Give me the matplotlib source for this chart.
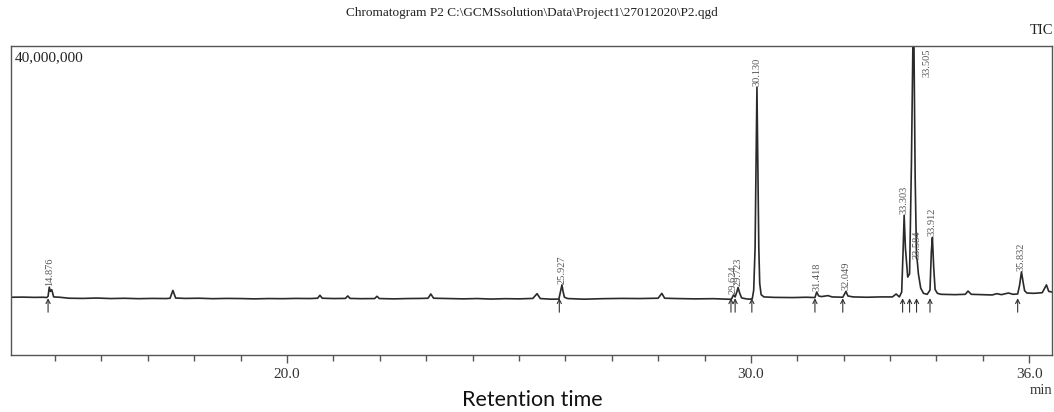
import matplotlib.pyplot as plt
from matplotlib.ticker import MultipleLocator, FixedLocator

# Трасса хроматограммы (время удерживания, мин; интенсивность, млн)
trace_rt = [14.05, 14.30, 14.55, 14.75, 14.82, 14.85, 14.876, 14.90, 14.93, 14.97,
            15.10, 15.30, 15.60, 15.90, 16.20, 16.50, 16.80, 17.10, 17.40, 17.48,
            17.54, 17.60, 17.80, 18.10, 18.40, 18.70, 19.00, 19.30, 19.60, 19.90,
            20.20, 20.50, 20.66, 20.71, 20.76, 21.00, 21.26, 21.31, 21.36, 21.60,
            21.89, 21.94, 21.99, 22.30, 22.60, 22.90, 23.04, 23.10, 23.16, 23.50,
            23.80, 24.10, 24.40, 24.70, 25.00, 25.30, 25.39, 25.46, 25.70, 25.86,
            25.90, 25.927, 25.95, 25.98, 26.05, 26.40, 26.80, 27.20, 27.60, 28.00,
            28.08, 28.14, 28.40, 28.80, 29.20, 29.50, 29.58, 29.624, 29.66, 29.70,
            29.723, 29.76, 29.80, 29.90, 29.98, 30.03, 30.06, 30.09, 30.11, 30.13,
            30.15, 30.17, 30.19, 30.22, 30.28, 30.50, 30.90, 31.20, 31.38, 31.418,
            31.46, 31.52, 31.66, 31.75, 31.98, 32.049, 32.09, 32.20, 32.50, 32.80,
            33.05, 33.13, 33.20, 33.25, 33.28, 33.303, 33.33, 33.38, 33.42, 33.46,
            33.505, 33.54, 33.57, 33.584, 33.61, 33.66, 33.72, 33.80, 33.86, 33.89,
            33.912, 33.94, 33.97, 34.02, 34.10, 34.40, 34.62, 34.68, 34.75, 35.00,
            35.20, 35.30, 35.40, 35.55, 35.65, 35.75, 35.79, 35.832, 35.87, 35.90,
            35.95, 36.10, 36.28, 36.37, 36.42, 36.49]
trace_int = [1.40, 1.42, 1.38, 1.40, 1.35, 1.55, 2.95, 2.30, 2.55, 1.45,
             1.40, 1.25, 1.22, 1.28, 1.20, 1.24, 1.18, 1.22, 1.20, 1.25,
             2.45, 1.28, 1.22, 1.25, 1.18, 1.22, 1.20, 1.15, 1.20, 1.18,
             1.22, 1.20, 1.25, 1.70, 1.25, 1.20, 1.22, 1.60, 1.22, 1.18,
             1.20, 1.55, 1.20, 1.15, 1.20, 1.22, 1.25, 1.90, 1.25, 1.20,
             1.15, 1.20, 1.12, 1.18, 1.15, 1.22, 1.95, 1.20, 1.10, 1.12,
             2.40, 3.30, 2.30, 1.40, 1.20, 1.10, 1.18, 1.22, 1.20, 1.25,
             2.00, 1.25, 1.20, 1.15, 1.18, 1.10, 1.10, 1.75, 1.45, 2.30,
             2.90, 2.00, 1.30, 1.15, 1.10, 1.20, 2.50, 9.0, 22.0, 33.7,
             22.0, 9.0, 3.5, 1.8, 1.45, 1.38, 1.35, 1.40, 1.35, 2.20,
             1.60, 1.50, 1.65, 1.45, 1.40, 2.30, 1.60, 1.45, 1.40, 1.45,
             1.45, 1.90, 1.45, 2.20, 8.5, 14.0, 9.0, 4.5, 5.0, 22.0,
             48.0, 20.0, 7.5, 7.1, 5.0, 2.8, 2.0, 1.85, 2.5, 8.5,
             10.6, 6.0, 2.6, 2.0, 1.85, 1.80, 1.85, 2.35, 1.85, 1.80,
             1.75, 1.95, 1.80, 2.05, 1.85, 1.90, 3.2, 5.3, 3.6, 2.4,
             2.05, 2.00, 2.10, 3.30, 2.30, 2.20]

# Отмеченные пики
peak_labels = ["14.876", "25.927", "29.624", "29.723", "30.130", "31.418",
               "32.049", "33.303", "33.505", "33.584", "33.912", "35.832"]
peak_height = [2.95, 3.30, 1.75, 2.90, 33.7, 2.20, 2.30, 14.0, 48.0, 7.1, 10.6, 5.3]

# Начала пиков (стрелки)
start_rt = [14.85, 25.87, 29.57, 29.66, 30.02, 31.38, 31.98,
            33.27, 33.42, 33.57, 33.86, 35.75]

labeled_ticks = [20.0, 30.0, 36.0]

serif = 'Liberation Serif'

fig = plt.figure(figsize=(10.54, 4.12), dpi=100)
ax = fig.add_axes([0.0104, 0.138, 0.9877, 0.750])

ax.plot(trace_rt, trace_int, color='#2a2a2a', lw=1.2)
ax.set_xlim(14.05, 36.49)
ax.set_ylim(-7.5, 40)

# подписи пиков
for lab, h in zip(peak_labels, peak_height):
    rt = float(lab)
    if h > 40:
        ax.text(rt + 0.30, 39.7, lab, rotation=90, ha='center', va='top',
                fontsize=7.5, color='#555555', family=serif)
    else:
        ax.text(rt, h + 0.2, lab, rotation=90, ha='center', va='bottom',
                fontsize=7.5, color='#555555', family=serif)

# стрелки начала пиков
for rt in start_rt:
    ax.annotate('', xy=(rt, 1.25), xytext=(rt, -0.9),
                arrowprops=dict(arrowstyle='->,head_length=0.3,head_width=0.15',
                                lw=0.8, color='#333333', shrinkA=0, shrinkB=0))

for s in ['top', 'right', 'left', 'bottom']:
    ax.spines[s].set_color('#555555')
    ax.spines[s].set_linewidth(1.0)

ax.set_yticks([])
ax.xaxis.set_major_locator(FixedLocator(labeled_ticks))
ax.set_xticklabels([f"{v:.1f}" for v in labeled_ticks], family=serif, fontsize=11,
                   color='#333333')
ax.xaxis.set_minor_locator(MultipleLocator(1.0))
ax.tick_params(axis='x', which='major', direction='out', length=6, width=1,
               color='#555555', pad=3)
ax.tick_params(axis='x', which='minor', direction='out', length=4, width=1,
               color='#555555')

ax.text(0.004, 0.964, '40,000,000', transform=ax.transAxes, ha='left', va='center',
        family=serif, fontsize=11, color='#222222')

fig.text(0.505, 0.968, r'Chromatogram P2 C:\GCMSsolution\Data\Project1\27012020\P2.qgd',
         ha='center', va='center', family=serif, fontsize=9.5, color='#222222')
fig.text(0.999, 0.925, 'TIC', ha='right', va='center', family=serif, fontsize=10.5,
         color='#222222')
fig.text(0.998, 0.052, 'min', ha='right', va='center', family=serif, fontsize=10.5,
         color='#333333')
fig.text(0.505, 0.029, 'Retention time', ha='center', va='center', family='Lato',
         fontsize=15.5, color='#111111')

fig.savefig('out.png', dpi=100)
